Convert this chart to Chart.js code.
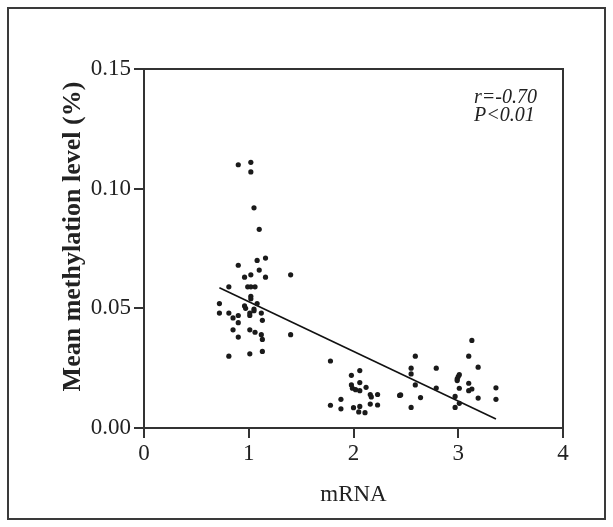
<!DOCTYPE html>
<html>
<head>
<meta charset="utf-8">
<script src="https://cdn.jsdelivr.net/npm/chart.js@4.4.1/dist/chart.umd.min.js"></script>
<style>
  body { margin: 0; background: #fff; }
  #wrap { width: 613px; height: 527px; }
</style>
</head>
<body>
<div id="wrap"><canvas id="scatterChart" width="613" height="527"></canvas></div>
<script>
// Data
const mrnaValues = [
  0.90, 1.02, 1.02, 1.05, 1.10, 1.16, 1.08, 0.90, 1.10, 1.02, 0.96, 1.16, 1.40,
  0.81, 0.99, 1.02, 1.06, 1.02, 1.02, 0.96, 0.97, 1.05, 1.08, 0.72, 0.72,
  0.81, 0.85, 0.90, 0.90, 1.01, 1.01, 1.05, 1.12, 1.13, 0.85, 1.01, 1.06,
  1.12, 1.13, 0.90, 1.40, 0.81, 1.01, 1.13,
  1.78, 1.98, 2.06, 1.98, 1.99, 2.02, 2.06, 2.06, 2.12, 2.16, 2.17, 2.23,
  1.88, 2.16, 2.23, 1.78, 1.88, 2.00, 2.06, 2.05, 2.11,
  2.59, 2.55, 2.55, 2.59, 2.45, 2.44, 2.64, 2.55, 2.79, 2.79, 3.13, 3.10,
  3.19, 3.01, 3.00, 2.99, 2.99, 3.01, 3.10, 3.10, 3.13, 2.97, 3.19, 2.97,
  3.01, 3.36, 3.36
];
const methylationValues = [
  0.110, 0.111, 0.107, 0.092, 0.083, 0.071, 0.070, 0.068, 0.066, 0.064, 0.063, 0.063, 0.064,
  0.059, 0.059, 0.059, 0.059, 0.055, 0.054, 0.051, 0.050, 0.0497, 0.052, 0.052, 0.048,
  0.048, 0.046, 0.047, 0.044, 0.048, 0.047, 0.049, 0.048, 0.045, 0.041, 0.041, 0.040,
  0.039, 0.037, 0.038, 0.039, 0.030, 0.031, 0.032,
  0.028, 0.022, 0.024, 0.018, 0.0166, 0.016, 0.019, 0.0156, 0.017, 0.014, 0.013, 0.014,
  0.012, 0.010, 0.0096, 0.0095, 0.008, 0.0085, 0.009, 0.0067, 0.0064,
  0.030, 0.025, 0.0226, 0.018, 0.0138, 0.0136, 0.0127, 0.0086, 0.025, 0.0167, 0.0366, 0.030,
  0.0254, 0.0223, 0.0215, 0.0205, 0.0198, 0.0166, 0.0187, 0.0156, 0.0163, 0.0132, 0.0125, 0.0086,
  0.0103, 0.0168, 0.012
];
// regression line end points
const fitX = [0.72, 3.36];
const fitY = [0.0586, 0.0038];

const xTicks = [0, 1, 2, 3, 4];
const yTicks = [0, 0.05, 0.10, 0.15];
const yTitle = 'Mean methylation level (%)';
const statsLines = ['r=-0.70', 'P<0.01'];

const points = mrnaValues.map((x, i) => ({ x: x, y: methylationValues[i] }));
const fitLine = fitX.map((x, i) => ({ x: x, y: fitY[i] }));

const axisColor = '#333';
const serif = "'Liberation Serif', 'Times New Roman', serif";

// outer frame, plot box, y title and the r / P text
const framePlugin = {
  id: 'framePlugin',
  beforeDraw(chart) {
    const c = chart.ctx;
    c.save();
    c.fillStyle = '#fff';
    c.fillRect(0, 0, chart.width, chart.height);
    c.strokeStyle = '#3a3a3a';
    c.lineWidth = 2;
    c.strokeRect(8, 8, 597, 511);
    c.restore();
  },
  afterDraw(chart) {
    const c = chart.ctx;
    const a = chart.chartArea;
    c.save();
    c.strokeStyle = axisColor;
    c.lineWidth = 2;
    c.beginPath();
    c.moveTo(a.left, a.top);
    c.lineTo(a.right, a.top);
    c.lineTo(a.right, a.bottom);
    c.stroke();

    c.fillStyle = '#222';
    c.font = "italic 20px " + serif;
    c.textAlign = 'left';
    c.textBaseline = 'middle';
    c.fillText(statsLines[0], a.right - 89, 98);
    c.fillText(statsLines[1], a.right - 89, 116);

    // y axis title, sits a bit above the middle of the axis like the original
    c.translate(73, a.top + (a.bottom - a.top) / 2 - 12);
    c.rotate(-Math.PI / 2);
    c.font = "bold 26px " + serif;
    c.textAlign = 'center';
    c.fillText(yTitle, 0, 0);
    c.restore();
  }
};

const ctx = document.getElementById('scatterChart').getContext('2d');

new Chart(ctx, {
  type: 'scatter',
  data: {
    datasets: [{
      data: points,
      backgroundColor: '#1a1a1a',
      borderColor: '#1a1a1a',
      pointRadius: 2.6,
      pointBorderWidth: 0
    }, {
      type: 'line',
      data: fitLine,
      borderColor: '#111',
      borderWidth: 1.6,
      pointRadius: 0,
      fill: false
    }]
  },
  options: {
    responsive: false,
    animation: false,
    layout: { padding: { left: 60, top: 69, right: 50, bottom: 18 } },
    plugins: {
      legend: { display: false },
      tooltip: { enabled: false }
    },
    scales: {
      x: {
        type: 'linear',
        min: 0,
        max: 4,
        afterBuildTicks: s => { s.ticks = xTicks.map(v => ({ value: v })); },
        afterFit: s => { s.height = 81; },
        grid: { drawOnChartArea: false, drawTicks: true, tickLength: 10, color: axisColor, lineWidth: 2 },
        border: { display: true, color: axisColor, width: 2 },
        ticks: {
          color: '#222',
          padding: 2,
          font: { family: serif, size: 23 },
          callback: v => String(v)
        },
        title: {
          display: true,
          text: 'mRNA',
          color: '#222',
          font: { family: serif, size: 23 },
          padding: 0
        }
      },
      y: {
        type: 'linear',
        min: 0,
        max: 0.15,
        afterBuildTicks: s => { s.ticks = yTicks.map(v => ({ value: v })); },
        afterFit: s => { s.width = 84; },
        grid: { drawOnChartArea: false, drawTicks: true, tickLength: 10, color: axisColor, lineWidth: 2 },
        border: { display: true, color: axisColor, width: 2 },
        ticks: {
          color: '#222',
          padding: 3,
          font: { family: serif, size: 23 },
          callback: v => Number(v).toFixed(2)
        },
        title: { display: false }
      }
    }
  },
  plugins: [framePlugin]
});
</script>
</body>
</html>
